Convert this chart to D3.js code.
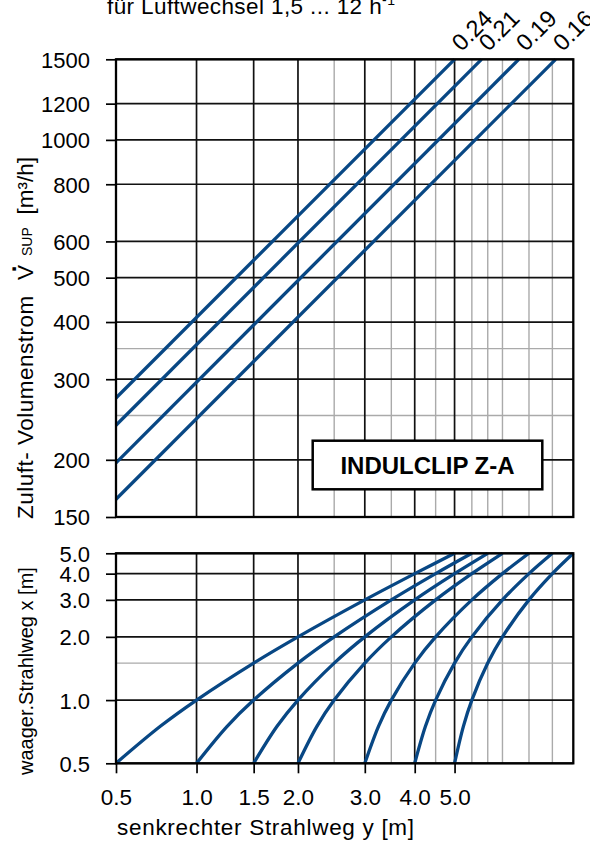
<!DOCTYPE html>
<html>
<head>
<meta charset="utf-8">
<script src="https://cdn.jsdelivr.net/npm/d3@7/dist/d3.min.js"></script>
<style>
  html, body { margin: 0; padding: 0; background: #fff; }
  svg { display: block; }
  text { font-family: "Liberation Sans", Arial, Helvetica, sans-serif; fill: #000; }
</style>
</head>
<body>
<div id="chart"></div>
<script>
// ---------------- data ----------------
// horizontal axis: senkrechter Strahlweg y [m]  (plotted as log(y + 0.5))
const X_OFFSET = 0.5;
const xDomain = [0.5, 9.5];
const xTickValues = [0.5, 1.0, 1.5, 2.0, 3.0, 4.0, 5.0];
const xTickLabels = ["0.5", "1.0", "1.5", "2.0", "3.0", "4.0", "5.0"];
const xMajorGrid = [1.0, 1.5, 2.0, 3.0, 4.0, 5.0];
const xMinorGrid = [2.5, 3.5, 4.5, 5.5, 6.0, 6.5, 7.5, 8.5];

// top panel: Zuluft-Volumenstrom [m3/h]
const vDomain = [150, 1500];
const vTicks = [150, 200, 300, 400, 500, 600, 800, 1000, 1200, 1500];
const vMinorGrid = [250, 350];
const seriesLabels = ["0.24", "0.21", "0.19", "0.16"];
const seriesY = [[0.5, 5.0], [0.5, 5.8], [0.5, 7.1], [0.5, 8.65]];
const seriesV = [[273, 1500], [238, 1500], [197, 1500], [164, 1500]];

// bottom panel: waagerechter Strahlweg x [m]
const wDomain = [0.5, 5.0];
const wTicks = [0.5, 1.0, 2.0, 3.0, 4.0, 5.0];
const wTickLabels = ["0.5", "1.0", "2.0", "3.0", "4.0", "5.0"];
const wMinorGrid = [1.5];
const curveX = [0.5, 0.75, 1.0, 1.5, 2.0, 3.0, 4.0, 5.0];
const curveY = [
  [0.5, 0.75, 1.0, 1.5, 2.0, 3.0, 4.0, 5.0],
  [1.0, 1.25, 1.5, 2.0, 2.5, 3.5, 4.5, 5.5],
  [1.5, 1.75, 2.0, 2.5, 3.0, 4.0, 5.0, 6.0],
  [2.0, 2.25, 2.5, 3.0, 3.5, 4.5, 5.5, 6.5],
  [3.0, 3.25, 3.5, 4.0, 4.5, 5.5, 6.5, 7.5],
  [4.0, 4.25, 4.5, 5.0, 5.5, 6.5, 7.5, 8.5],
  [5.0, 5.25, 5.5, 6.0, 6.5, 7.5, 8.5, 9.5]
];

// ---------------- layout ----------------
const W = 590, H = 841;
const left = 116, right = 573.3;
const topPanel = { top: 59.3, bottom: 517 };
const botPanel = { top: 553.3, bottom: 763.3 };
const LINE = "#084784";
const GRID_MAJOR = "#111";
const GRID_MINOR = "#aaaaaa";
const FONT = '"Liberation Sans", Arial, Helvetica, sans-serif';

const svg = d3.select("#chart").append("svg")
  .attr("width", W).attr("height", H);

const xLog = d3.scaleLog()
  .domain(xDomain.map(d => d + X_OFFSET))
  .range([left, right]);
const x = v => xLog(v + X_OFFSET);

const yTop = d3.scaleLog().domain(vDomain).range([topPanel.bottom, topPanel.top]);
const yBot = d3.scaleLog().domain(wDomain).range([botPanel.bottom, botPanel.top]);

function drawGrid(g, yScale, yMajor, yMinor, panel) {
  g.selectAll("line.vmin").data(xMinorGrid).join("line")
    .attr("class", "vmin")
    .attr("x1", d => x(d)).attr("x2", d => x(d))
    .attr("y1", panel.top).attr("y2", panel.bottom)
    .attr("stroke", GRID_MINOR).attr("stroke-width", 1.4);
  g.selectAll("line.hmin").data(yMinor).join("line")
    .attr("class", "hmin")
    .attr("x1", left).attr("x2", right)
    .attr("y1", d => yScale(d)).attr("y2", d => yScale(d))
    .attr("stroke", GRID_MINOR).attr("stroke-width", 1.4);
  g.selectAll("line.vmaj").data(xMajorGrid).join("line")
    .attr("class", "vmaj")
    .attr("x1", d => x(d)).attr("x2", d => x(d))
    .attr("y1", panel.top).attr("y2", panel.bottom)
    .attr("stroke", GRID_MAJOR).attr("stroke-width", 1.7);
  g.selectAll("line.hmaj").data(yMajor).join("line")
    .attr("class", "hmaj")
    .attr("x1", left).attr("x2", right)
    .attr("y1", d => yScale(d)).attr("y2", d => yScale(d))
    .attr("stroke", GRID_MAJOR).attr("stroke-width", 1.7);
}

function styleAxis(g, size) {
  g.select(".domain").remove();
  g.selectAll(".tick line").attr("stroke", "#000").attr("stroke-width", 1.7);
  g.selectAll(".tick text").attr("font-size", size).attr("fill", "#000")
    .attr("font-family", FONT);
}

// ---------- top panel ----------
const gTop = svg.append("g");
drawGrid(gTop.append("g"), yTop, vTicks, vMinorGrid, topPanel);

const yAxisTop = d3.axisLeft(yTop).tickValues(vTicks).tickFormat(d3.format("d"))
  .tickSizeInner(10).tickSizeOuter(0).tickPadding(16);
const gyTop = gTop.append("g").attr("transform", `translate(${left},0)`).call(yAxisTop);
styleAxis(gyTop, 22);
gyTop.selectAll(".tick text").attr("dy", "0.36em");

// box label
const boxG = gTop.append("g");
boxG.append("rect").attr("x", 312.7).attr("y", 440.7).attr("width", 229.6).attr("height", 48.6)
  .attr("fill", "#fff").attr("stroke", "#000").attr("stroke-width", 2.5);
boxG.append("text").attr("x", 427.5).attr("y", 473.5).attr("text-anchor", "middle")
  .attr("font-size", 24).attr("font-weight", "bold").text("INDULCLIP Z-A");

// lines
const topSeries = seriesLabels.map((lab, i) => ({
  label: lab,
  pts: seriesY[i].map((yy, j) => ({ y: yy, v: seriesV[i][j] }))
}));
const lineTop = d3.line().x(d => x(d.y)).y(d => yTop(d.v));
gTop.append("g").selectAll("path").data(topSeries).join("path")
  .attr("d", d => lineTop(d.pts))
  .attr("fill", "none").attr("stroke", LINE).attr("stroke-width", 3.3);

// frame
gTop.append("rect").attr("x", left).attr("y", topPanel.top)
  .attr("width", right - left).attr("height", topPanel.bottom - topPanel.top)
  .attr("fill", "none").attr("stroke", "#000").attr("stroke-width", 2.3);

// rotated series labels
gTop.append("g").selectAll("text").data(topSeries).join("text")
  .attr("transform", d => {
    const last = d.pts[d.pts.length - 1];
    return `translate(${x(last.y) + 7},${yTop(last.v) - 7}) rotate(-45)`;
  })
  .attr("font-size", 23.5).text(d => d.label);

// ---------- bottom panel ----------
const gBot = svg.append("g");
drawGrid(gBot.append("g"), yBot, wTicks, wMinorGrid, botPanel);

const yAxisBot = d3.axisLeft(yBot).tickValues(wTicks).tickFormat((d, i) => wTickLabels[i])
  .tickSizeInner(10).tickSizeOuter(0).tickPadding(16);
const gyBot = gBot.append("g").attr("transform", `translate(${left},0)`).call(yAxisBot);
styleAxis(gyBot, 22);
gyBot.selectAll(".tick text").attr("dy", "0.36em");

const xAxisBot = d3.axisBottom(xLog)
  .tickValues(xTickValues.map(d => d + X_OFFSET))
  .tickFormat((d, i) => xTickLabels[i])
  .tickSizeInner(10).tickSizeOuter(0).tickPadding(16);
const gxBot = gBot.append("g").attr("transform", `translate(0,${botPanel.bottom})`).call(xAxisBot);
styleAxis(gxBot, 22.5);

const curves = curveY.map(ys => ys.map((yy, j) => ({ y: yy, w: curveX[j] })));
const lineBot = d3.line().x(d => x(d.y)).y(d => yBot(d.w)).curve(d3.curveCatmullRom.alpha(0.5));
gBot.append("g").selectAll("path").data(curves).join("path")
  .attr("d", d => lineBot(d))
  .attr("fill", "none").attr("stroke", LINE).attr("stroke-width", 3.3);

gBot.append("rect").attr("x", left).attr("y", botPanel.top)
  .attr("width", right - left).attr("height", botPanel.bottom - botPanel.top)
  .attr("fill", "none").attr("stroke", "#000").attr("stroke-width", 2.3);

// ---------- texts ----------
const title = svg.append("text").attr("x", 107).attr("y", 13.5)
  .attr("font-size", 22.5).attr("letter-spacing", 0.4);
title.append("tspan").text("für Luftwechsel 1,5 ... 12 h");
title.append("tspan").attr("font-size", 14).attr("dy", -9).text("-1");

svg.append("text").attr("x", 117).attr("y", 835)
  .attr("font-size", 22.5).attr("letter-spacing", 0.7)
  .text("senkrechter Strahlweg y [m]");

// vertical label of top panel
svg.append("text").attr("transform", "translate(33,519) rotate(-90)")
  .attr("font-size", 22.5).attr("letter-spacing", 0.5)
  .text("Zuluft- Volumenstrom");
svg.append("text").attr("transform", "translate(33,280) rotate(-90)")
  .attr("font-size", 22.5).text("V");
svg.append("text").attr("transform", "translate(16,269) rotate(-90)")
  .attr("font-size", 24).attr("text-anchor", "middle").attr("font-weight", "bold").text(".");
svg.append("text").attr("transform", "translate(32,256) rotate(-90)")
  .attr("font-size", 14).text("SUP");
svg.append("text").attr("transform", "translate(33,157) rotate(-90)")
  .attr("font-size", 22.5).attr("text-anchor", "end").text("[m³/h]");

// vertical label of bottom panel
svg.append("text").attr("transform", "translate(33,775) rotate(-90)")
  .attr("font-size", 20)
  .text("waager.Strahlweg x [m]");
</script>
</body>
</html>
